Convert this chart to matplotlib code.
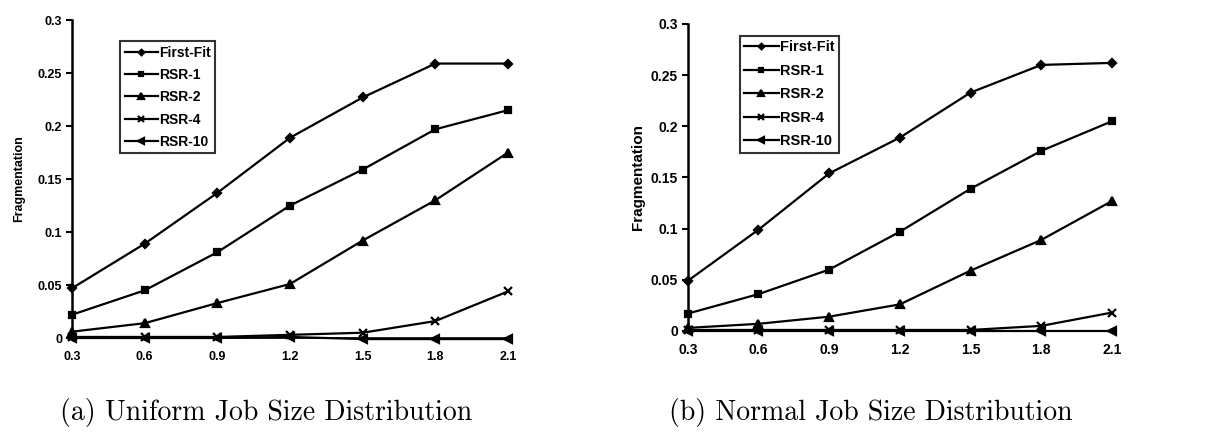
import matplotlib
matplotlib.use("Agg")
import matplotlib.pyplot as plt

load = [0.3, 0.6, 0.9, 1.2, 1.5, 1.8, 2.1]
x_labels = ["0.3", "0.6", "0.9", "1.2", "1.5", "1.8", "2.1"]
series_names = ["First-Fit", "RSR-1", "RSR-2", "RSR-4", "RSR-10"]

# (a) uniform job size distribution
uniform_ff = [0.047, 0.089, 0.137, 0.189, 0.227, 0.259, 0.259]
uniform_rsr1 = [0.022, 0.045, 0.081, 0.125, 0.159, 0.197, 0.215]
uniform_rsr2 = [0.006, 0.014, 0.033, 0.051, 0.092, 0.130, 0.175]
uniform_rsr4 = [0.001, 0.001, 0.001, 0.003, 0.005, 0.016, 0.044]
uniform_rsr10 = [0.0, 0.0, 0.0, 0.001, -0.001, -0.001, -0.001]

# (b) normal job size distribution
normal_ff = [0.049, 0.099, 0.154, 0.189, 0.233, 0.260, 0.262]
normal_rsr1 = [0.017, 0.036, 0.060, 0.097, 0.139, 0.176, 0.205]
normal_rsr2 = [0.003, 0.007, 0.014, 0.026, 0.059, 0.089, 0.127]
normal_rsr4 = [0.001, 0.001, 0.001, 0.001, 0.001, 0.005, 0.018]
normal_rsr10 = [0.0, 0.0, 0.0, 0.0, 0.0, 0.0, 0.0]

y_ticks = [0, 0.05, 0.1, 0.15, 0.2, 0.25, 0.3]
y_labels = ["0", "0.05", "0.1", "0.15", "0.2", "0.25", "0.3"]

markers = ["D", "s", "^", "x", "<"]
msizes = [4, 5, 5.5, 6, 5.5]

fig = plt.figure(figsize=(12.13, 4.37), dpi=100)
ax_a = fig.add_axes([0.0594, 0.2265, 0.3594, 0.7275])
ax_b = fig.add_axes([0.567, 0.2426, 0.3497, 0.7025])


def draw_panel(ax, data, tick_fs, ylab_fs, leg_fs, legend_box, lspace, ypad):
    for vals, name, m, ms in zip(data, series_names, markers, msizes):
        ax.plot(load, vals, color="black", lw=1.6, marker=m, ms=ms,
                mew=1.6, label=name, clip_on=False)
    ax.set_xlim(0.3, 2.1)
    ax.set_ylim(0, 0.3)
    ax.set_xticks(load)
    ax.set_xticklabels(x_labels, fontsize=tick_fs, fontweight="bold",
                       family="Liberation Sans")
    ax.set_yticks(y_ticks)
    ax.set_yticklabels(y_labels, fontsize=tick_fs, fontweight="bold",
                       family="Liberation Sans")
    ax.tick_params(axis="x", length=0, pad=9)
    ax.tick_params(axis="y", length=4, width=1.5, direction="out", pad=3)
    ax.spines["top"].set_visible(False)
    ax.spines["right"].set_visible(False)
    ax.spines["left"].set_linewidth(1.8)
    ax.spines["bottom"].set_linewidth(1.2)
    ax.set_ylabel("Fragmentation", fontsize=ylab_fs, family="Liberation Sans",
                  fontweight="bold", labelpad=ypad)
    leg = ax.legend(loc="upper left", bbox_to_anchor=legend_box,
                    frameon=True, fancybox=False,
                    borderpad=0.3, labelspacing=lspace, handlelength=2.4,
                    handletextpad=0.1, markerscale=0.7,
                    prop={"family": "Liberation Sans", "weight": "bold",
                          "size": leg_fs})
    leg.get_frame().set_edgecolor("black")
    leg.get_frame().set_linewidth(1.5)


draw_panel(ax_a, [uniform_ff, uniform_rsr1, uniform_rsr2, uniform_rsr4, uniform_rsr10],
           9, 9, 10, (0.095, 0.955), 0.6, 9)
draw_panel(ax_b, [normal_ff, normal_rsr1, normal_rsr2, normal_rsr4, normal_rsr10],
           10, 11, 10.5, (0.105, 0.985), 0.65, 4)

fig.text(0.219, 0.055, "(a) Uniform Job Size Distribution", ha="center",
         va="center", fontsize=20, family="cmr10")
fig.text(0.718, 0.055, "(b) Normal Job Size Distribution", ha="center",
         va="center", fontsize=20, family="cmr10")

fig.savefig("out.png", dpi=100)
